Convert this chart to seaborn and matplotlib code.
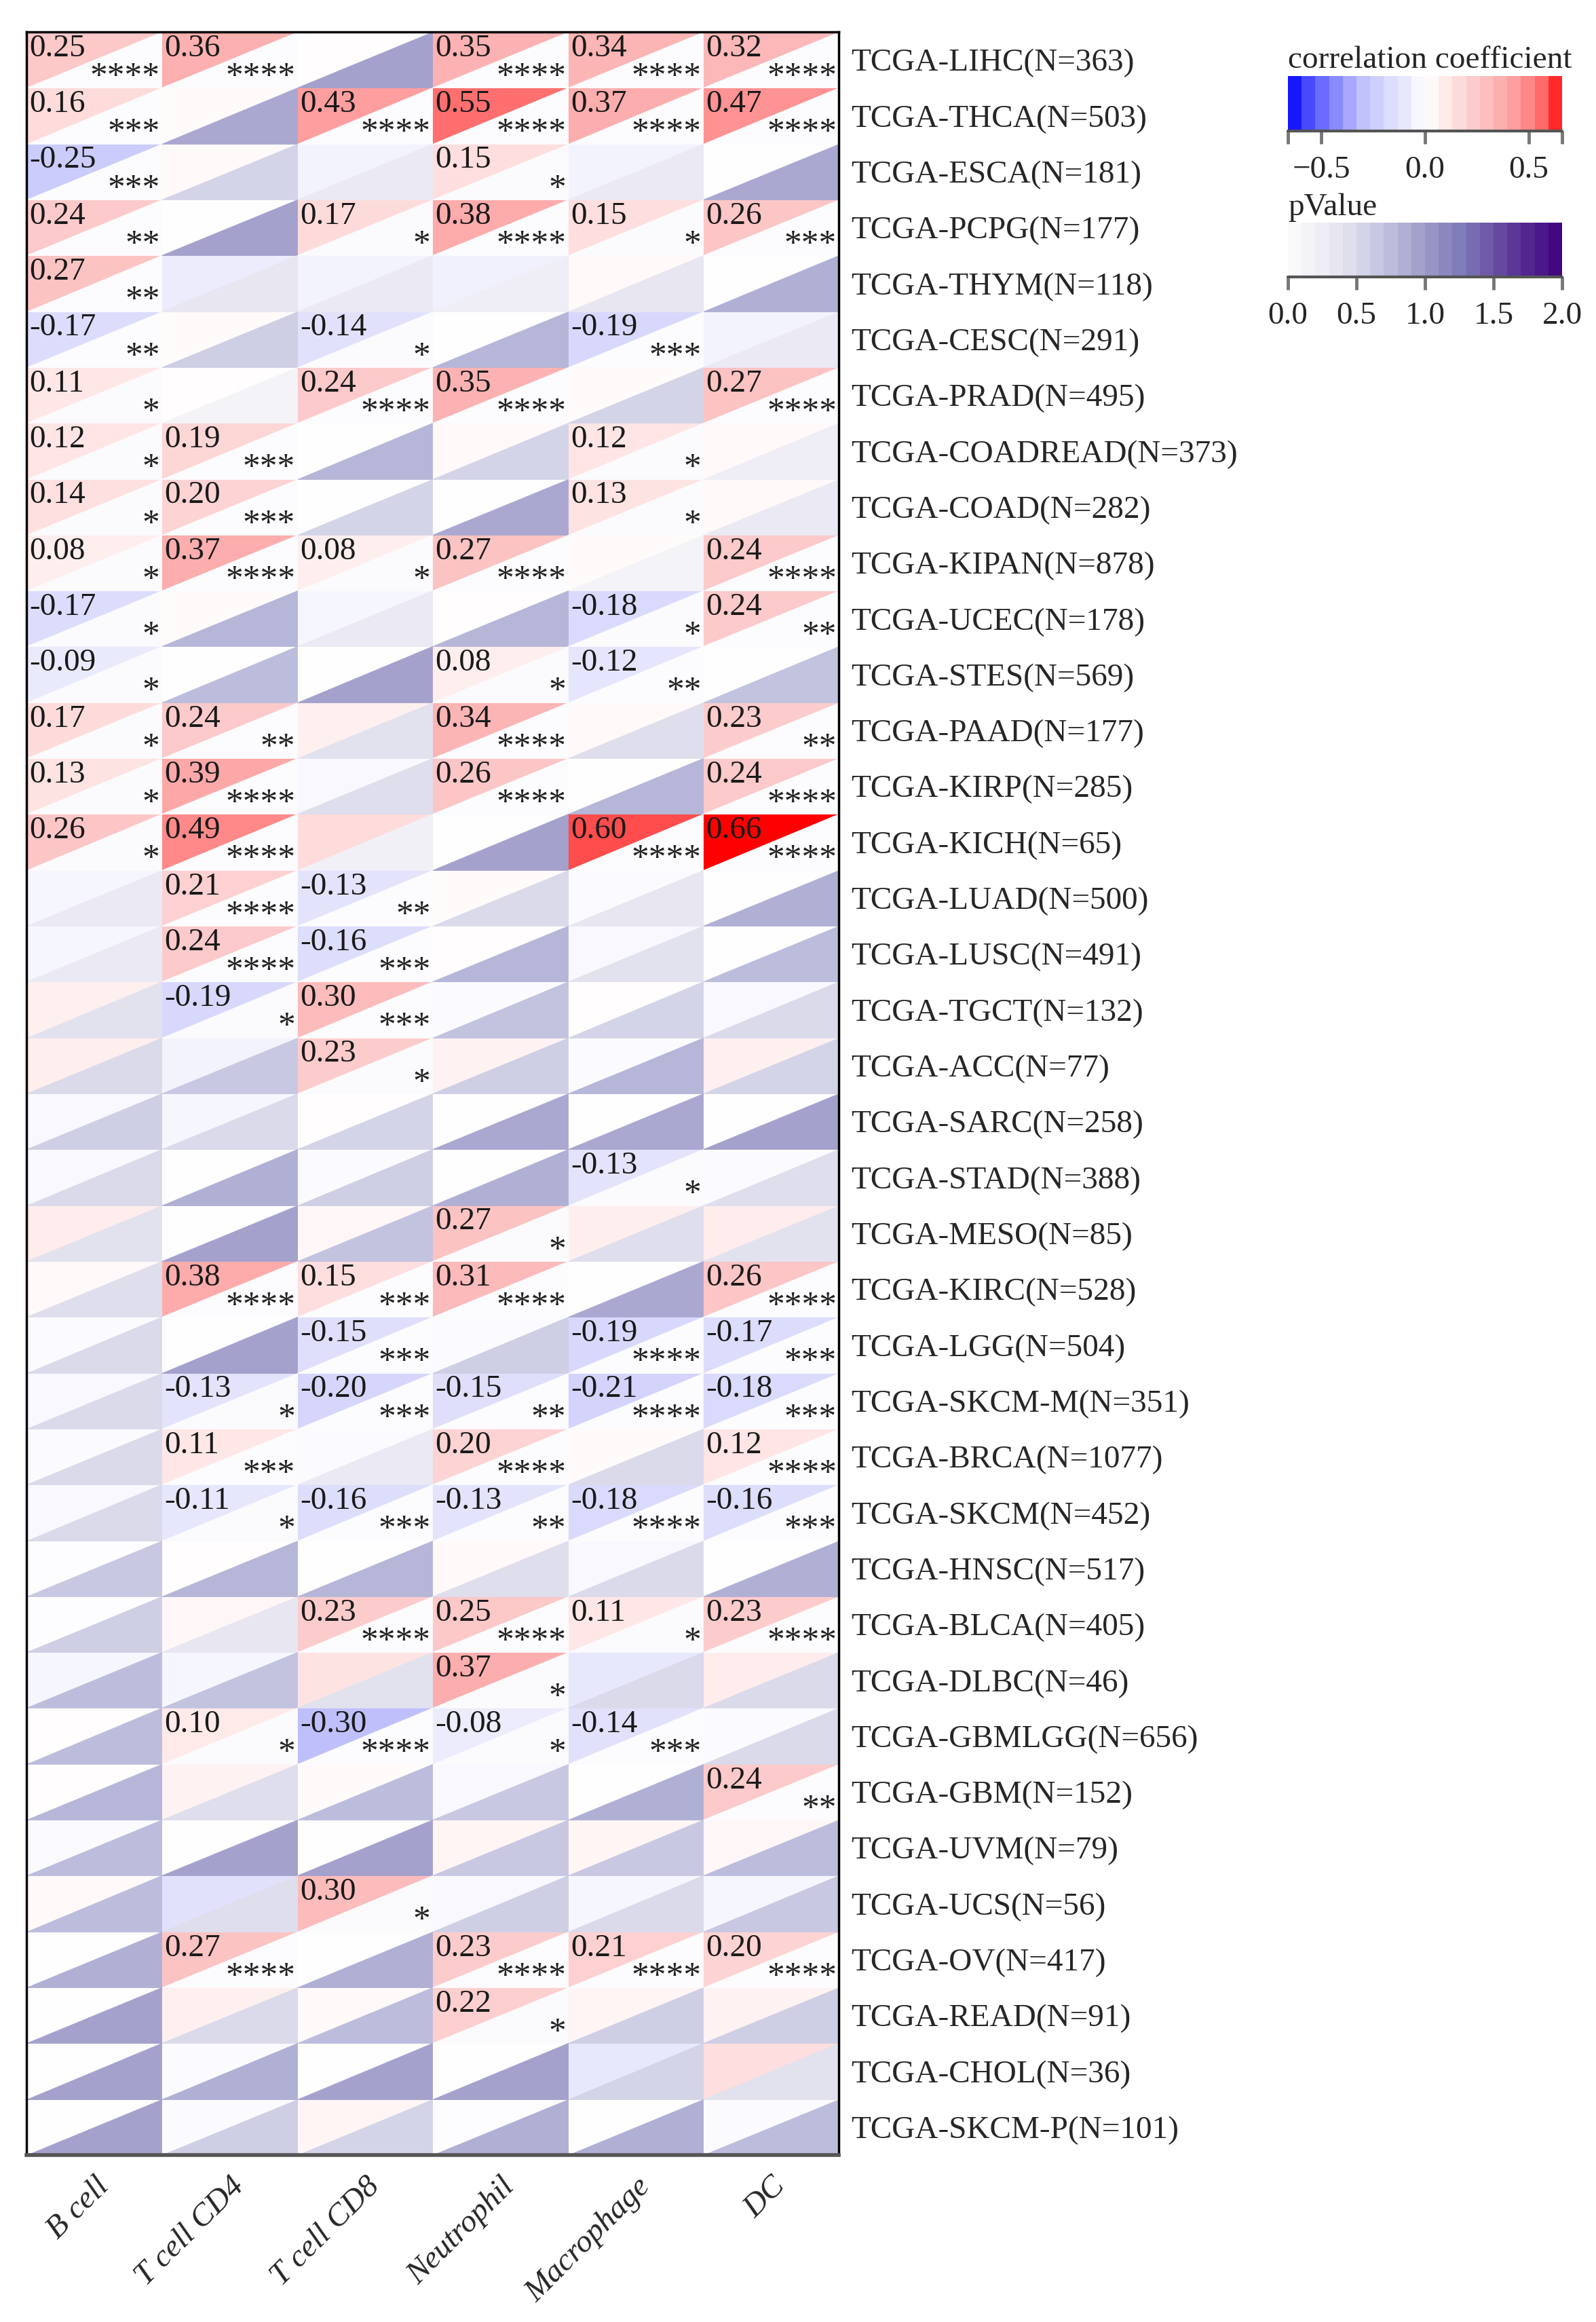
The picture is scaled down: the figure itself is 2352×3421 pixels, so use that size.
"""
Correlation of immune infiltration with gene expression across TCGA cohorts.
Each cell is split: upper-left triangle = correlation, lower-right = p value.
"""

import matplotlib
matplotlib.use('Agg')
import matplotlib.pyplot as plt
from matplotlib.colors import LinearSegmentedColormap, Normalize
from matplotlib.collections import PolyCollection
import numpy as np
import pandas as pd
import seaborn as sns

cell_types = ['B cell', 'T cell CD4', 'T cell CD8', 'Neutrophil', 'Macrophage', 'DC']

cancers = ['LIHC', 'THCA', 'ESCA', 'PCPG', 'THYM', 'CESC', 'PRAD', 'COADREAD', 'COAD',
           'KIPAN', 'UCEC', 'STES', 'PAAD', 'KIRP', 'KICH', 'LUAD', 'LUSC', 'TGCT', 'ACC',
           'SARC', 'STAD', 'MESO', 'KIRC', 'LGG', 'SKCM-M', 'BRCA', 'SKCM', 'HNSC', 'BLCA',
           'DLBC', 'GBMLGG', 'GBM', 'UVM', 'UCS', 'OV', 'READ', 'CHOL', 'SKCM-P']
sample_sizes = [363, 503, 181, 177, 118, 291, 495, 373, 282, 878, 178, 569, 177, 285, 65,
                500, 491, 132, 77, 258, 388, 85, 528, 504, 351, 1077, 452, 517, 405, 46,
                656, 152, 79, 56, 417, 91, 36, 101]

# correlation coefficients (rows follow `cancers`, columns follow `cell_types`)
corr_values = [
    [0.25, 0.36, 0.01, 0.35, 0.34, 0.32],
    [0.16, 0.02, 0.43, 0.55, 0.37, 0.47],
    [-0.25, 0.03, -0.05, 0.15, -0.05, 0.00],
    [0.24, 0.00, 0.17, 0.38, 0.15, 0.26],
    [0.27, -0.08, -0.05, -0.06, 0.03, 0.00],
    [-0.17, 0.02, -0.14, 0.00, -0.19, -0.05],
    [0.11, 0.01, 0.24, 0.35, 0.02, 0.27],
    [0.12, 0.19, 0.00, 0.03, 0.12, 0.03],
    [0.14, 0.20, 0.00, 0.00, 0.13, 0.03],
    [0.08, 0.37, 0.08, 0.27, 0.02, 0.24],
    [-0.17, 0.02, -0.04, 0.01, -0.18, 0.24],
    [-0.09, 0.00, 0.00, 0.08, -0.12, 0.00],
    [0.17, 0.24, 0.07, 0.34, 0.03, 0.23],
    [0.13, 0.39, -0.03, 0.26, 0.00, 0.24],
    [0.26, 0.49, 0.16, 0.00, 0.60, 0.66],
    [-0.04, 0.21, -0.13, 0.02, -0.02, 0.00],
    [-0.04, 0.24, -0.16, 0.01, -0.03, 0.00],
    [0.07, -0.19, 0.30, -0.02, 0.01, -0.03],
    [0.08, -0.05, 0.23, 0.06, -0.02, 0.07],
    [-0.03, -0.04, 0.01, 0.00, 0.00, 0.00],
    [-0.03, 0.00, -0.02, 0.00, -0.13, -0.02],
    [0.09, 0.00, 0.04, 0.27, 0.08, 0.09],
    [0.03, 0.38, 0.15, 0.31, 0.00, 0.26],
    [-0.02, 0.00, -0.15, -0.02, -0.19, -0.17],
    [-0.03, -0.13, -0.20, -0.15, -0.21, -0.18],
    [-0.02, 0.11, -0.02, 0.20, 0.02, 0.12],
    [-0.03, -0.11, -0.16, -0.13, -0.18, -0.16],
    [-0.01, 0.01, 0.00, 0.03, -0.03, 0.00],
    [-0.01, 0.04, 0.23, 0.25, 0.11, 0.23],
    [-0.04, -0.04, 0.13, 0.37, -0.10, 0.09],
    [0.01, 0.10, -0.30, -0.08, -0.14, -0.02],
    [0.01, 0.06, 0.02, -0.03, 0.00, 0.24],
    [-0.02, 0.00, 0.00, 0.05, 0.05, 0.04],
    [0.03, -0.14, 0.30, -0.03, -0.04, -0.04],
    [0.00, 0.27, 0.00, 0.23, 0.21, 0.20],
    [0.00, 0.07, 0.03, 0.22, 0.05, 0.06],
    [0.00, -0.02, 0.00, 0.00, -0.10, 0.15],
    [0.00, -0.02, 0.05, -0.01, 0.00, -0.02],
]

# p values (significant ones only known by their star level)
p_values = [
    [5e-5, 5e-5, 0.95, 5e-5, 5e-5, 5e-5],
    [5e-4, 0.90, 5e-5, 5e-5, 5e-5, 5e-5],
    [5e-4, 0.55, 0.30, 0.02, 0.30, 0.90],
    [5e-3, 0.95, 0.02, 5e-5, 0.02, 5e-4],
    [5e-3, 0.35, 0.30, 0.25, 0.35, 0.85],
    [5e-3, 0.60, 0.02, 0.80, 5e-4, 0.30],
    [0.02, 0.15, 5e-5, 5e-5, 0.55, 5e-5],
    [0.02, 5e-4, 0.80, 0.55, 0.02, 0.25],
    [0.02, 5e-4, 0.55, 0.90, 0.02, 0.30],
    [0.02, 5e-5, 0.02, 5e-5, 0.15, 5e-5],
    [0.02, 0.80, 0.30, 0.80, 0.02, 5e-3],
    [0.02, 0.75, 0.95, 0.02, 5e-3, 0.70],
    [0.02, 5e-3, 0.40, 5e-5, 0.45, 5e-3],
    [0.02, 5e-5, 0.45, 5e-5, 0.80, 5e-5],
    [0.02, 5e-5, 0.20, 0.95, 5e-5, 5e-5],
    [0.30, 5e-5, 5e-3, 0.50, 0.35, 0.85],
    [0.30, 5e-5, 5e-4, 0.80, 0.40, 0.75],
    [0.40, 0.02, 5e-4, 0.70, 0.55, 0.50],
    [0.50, 0.65, 0.02, 0.60, 0.80, 0.55],
    [0.60, 0.50, 0.55, 0.90, 0.90, 0.95],
    [0.50, 0.85, 0.60, 0.85, 0.02, 0.45],
    [0.40, 0.95, 0.70, 0.02, 0.45, 0.40],
    [0.45, 5e-5, 5e-4, 5e-5, 0.90, 5e-5],
    [0.50, 0.95, 5e-4, 0.60, 5e-5, 5e-4],
    [0.50, 0.02, 5e-4, 5e-3, 5e-5, 5e-4],
    [0.50, 5e-4, 0.30, 5e-5, 0.50, 5e-5],
    [0.50, 0.02, 5e-4, 5e-3, 5e-5, 5e-4],
    [0.65, 0.80, 0.80, 0.45, 0.50, 0.85],
    [0.60, 0.35, 5e-5, 5e-5, 0.02, 5e-5],
    [0.75, 0.70, 0.40, 0.02, 0.50, 0.50],
    [0.75, 0.02, 5e-5, 0.02, 5e-4, 0.50],
    [0.80, 0.45, 0.75, 0.65, 0.85, 5e-3],
    [0.75, 0.95, 0.95, 0.65, 0.65, 0.75],
    [0.75, 0.45, 0.02, 0.60, 0.50, 0.65],
    [0.85, 5e-5, 0.85, 5e-5, 5e-5, 5e-5],
    [0.95, 0.50, 0.75, 0.02, 0.60, 0.60],
    [0.95, 0.85, 0.95, 0.95, 0.55, 0.40],
    [0.95, 0.60, 0.55, 0.85, 0.85, 0.75],
]

sns.set_theme(style='white')
plt.rcParams['font.family'] = ['Liberation Serif', 'DejaVu Serif']
plt.rcParams['axes.unicode_minus'] = True

row_labels = [f'TCGA-{c}(N={n})' for c, n in zip(cancers, sample_sizes)]
corr = pd.DataFrame(corr_values, index=row_labels, columns=cell_types)
pval = pd.DataFrame(p_values, index=row_labels, columns=cell_types)

r_max = 0.66
# blue - white - red ramp, pale in the middle like the original
ramp = [(-0.66, '#0000ff'), (-0.55, '#5050ff'), (-0.40, '#9a9aff'), (-0.30, '#c0c0fc'),
        (-0.17, '#dcdcfc'), (-0.08, '#ececfd'), (0.0, '#ffffff'), (0.10, '#ffeaea'),
        (0.25, '#fcc8c8'), (0.36, '#fcb0b0'), (0.47, '#ff9494'), (0.55, '#ff7070'),
        (0.60, '#ff5050'), (0.66, '#ff0000')]
corr_cmap = LinearSegmentedColormap.from_list(
    'corr', [((v + r_max) / (2 * r_max), c) for v, c in ramp])

fig = plt.figure(figsize=(23.52, 34.21), dpi=100)
ax = fig.add_axes([0.01658, 0.07191, 0.50893, 0.91435])
cax1 = fig.add_axes([1898 / 2352, 1 - 193 / 3421, 404 / 2352, 81 / 3421])
cax2 = fig.add_axes([1898 / 2352, 1 - 408 / 3421, 404 / 2352, 80 / 3421])

sns.heatmap(corr, ax=ax, cmap=corr_cmap, vmin=-r_max, vmax=r_max, cbar_ax=cax1,
            cbar_kws={'orientation': 'horizontal',
                      'boundaries': np.linspace(-r_max, r_max, 21)},
            xticklabels=True, yticklabels=True, linewidths=0)

# lower-right triangles carry the p value
n_rows, n_cols = corr.shape
tris = []
for i in range(n_rows):
    for j in range(n_cols):
        tris.append([(j, i + 1), (j + 1, i + 1), (j + 1, i)])
pc = PolyCollection(tris, cmap=plt.get_cmap('Purples'), norm=Normalize(0, 2),
                    edgecolors='face', linewidths=0.6)
pc.set_array(pval.values.ravel())
ax.add_collection(pc)

# value + stars for the significant cells
for i in range(n_rows):
    for j in range(n_cols):
        p = pval.iat[i, j]
        if p >= 0.05:
            continue
        r = corr.iat[i, j]
        ax.text(j + 0.02, i + 0.04, f'{r:.2f}', ha='left', va='top', fontsize=34, color='#1a1a1a')
        stars = '*' * sum(p < t for t in (0.05, 0.01, 0.001, 0.0001))
        ax.text(j + 0.985, i + 0.96, stars, ha='right', va='baseline', fontsize=37,
                color='#222222')

ax.yaxis.tick_right()
ax.set_yticklabels(row_labels, rotation=0, fontsize=34)
ax.tick_params(axis='y', length=0, pad=13)
ax.set_xticklabels(cell_types, rotation=45, ha='right', va='top', rotation_mode='anchor',
                   fontstyle='italic', fontsize=34)
ax.tick_params(axis='x', length=0, pad=18)
ax.set_xlabel('')
ax.set_ylabel('')

for name, spine in ax.spines.items():
    spine.set_visible(True)
    spine.set_color('black')
    spine.set_linewidth(2.5)
ax.spines['bottom'].set_color('#555555')
ax.spines['bottom'].set_linewidth(4)

# colour bars
cbar1 = ax.collections[0].colorbar
cbar1.set_ticks([-r_max, -0.5, 0, 0.5, r_max], labels=['', '\u22120.5', '0.0', '0.5', ''])
cbar2 = fig.colorbar(pc, cax=cax2, orientation='horizontal', boundaries=np.linspace(0, 2, 21))
cbar2.set_ticks([0, 0.5, 1, 1.5, 2], labels=[f'{t:.1f}' for t in (0, 0.5, 1, 1.5, 2)])
for cb in (cbar1, cbar2):
    cb.outline.set_visible(False)
    cb.ax.tick_params(axis='x', length=14, width=3.5, color='#777777', labelsize=34, pad=12)
    cb.ax.axhline(0, color='#555555', lw=3, clip_on=False)

fig.text(1898 / 2352, 1 - 100 / 3421, 'correlation coefficient', fontsize=34, va='baseline')
fig.text(1898 / 2352, 1 - 317 / 3421, 'pValue', fontsize=34, va='baseline')

plt.savefig('out.png', dpi=100)
print('Finished!')
